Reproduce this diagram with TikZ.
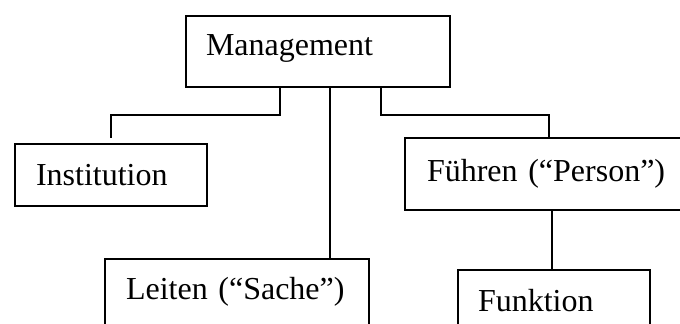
\documentclass[tikz,border=0pt]{standalone}
\usepackage{fontspec}
\setmainfont{Liberation Serif}
\begin{document}
\begin{tikzpicture}[x=0.5pt, y=-0.5pt,
  box/.style={draw, line width=1pt, anchor=north west, inner xsep=10pt, inner ysep=0pt, align=left, font=\fontsize{16}{19}\selectfont},
  link/.style={line width=1pt}]
\useasboundingbox (0, 0) rectangle (680, 324);
\clip (0, 0) rectangle (680, 324);
\node[box, text width=112pt, minimum height=35.5pt, text depth=6.5pt] (mgmt) at (185, 15) {Management};
\node[box, text width=75pt, inner xsep=10.5pt, minimum height=31pt] (inst) at (14, 143) {Institution};
\node[box, text width=126pt, inner xsep=11pt, minimum height=36pt] (fuehren) at (404, 137) {Führen (“Person”)};
\node[box, text width=111pt, inner xsep=10.5pt, minimum height=35.5pt, text depth=6.5pt] (leiten) at (104, 258) {Leiten (“Sache”)};
\node[box, text width=76pt, minimum height=31pt] (funktion) at (457, 269) {Funktion};
\coordinate (instTop) at (111, 138);
\draw[link] ([xshift=47.5pt]mgmt.south west) -- ++(0, 27) -| (instTop);
\draw[link] ([xshift=72.5pt]mgmt.south west) -- ([xshift=72.5pt]mgmt.south west |- leiten.north);
\draw[link] ([xshift=98pt]mgmt.south west) -- ++(0, 27) -| ([xshift=72.5pt]fuehren.north west);
\draw[link] ([xshift=74pt]fuehren.south west) -- ([xshift=74pt]fuehren.south west |- funktion.north);
\end{tikzpicture}
\end{document}
